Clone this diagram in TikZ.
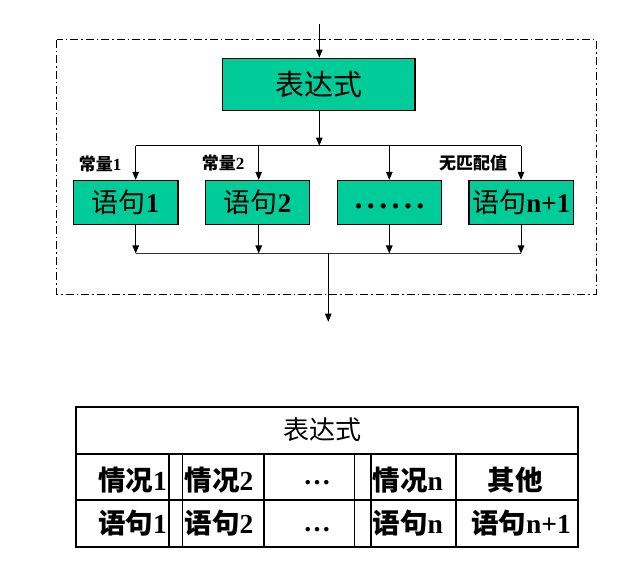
\documentclass[tikz,border=0pt]{standalone}
\usepackage{fontspec}
\setmainfont{Liberation Serif}
\newfontfamily\cjk{Noto Sans CJK SC}
\usetikzlibrary{arrows.meta}
\definecolor{boxgreen}{RGB}{0,204,153}
\newcommand\myzh[1]{{\cjk #1}}
\begin{document}
\begin{tikzpicture}[x=1pt,y=-1pt,
 gbox/.style={draw=black,line width=1.3pt,fill=boxgreen,minimum width=104.5pt,minimum height=44pt,inner sep=0pt,font=\fontsize{27}{27}\selectfont},
 conn/.style={line width=1pt,draw=black},
 arr/.style={conn,-{Triangle[width=6.5pt,length=8pt]}},
 lbl/.style={inner sep=0pt,font=\fontsize{17}{17}\selectfont\bfseries},
 cell/.style={inner sep=0pt,font=\fontsize{27.5}{27.5}\selectfont\bfseries},
 tline/.style={line width=2pt},
 vline/.style={line width=1.5pt},
 dashframe/.style={line width=1pt,dash pattern=on 8pt off 3pt on 1.5pt off 3pt}]
\useasboundingbox (0,0) rectangle (640,585);
% frame
\draw[dashframe] (56.7,40) rectangle (596,294.3);
% boxes
\node[gbox,minimum width=192.3pt,minimum height=52pt,font=\fontsize{29}{29}\selectfont] (expr) at (318.9,84.3) {\myzh{表达式}};
\node[gbox] (s1) at (125.6,202.5) {\myzh{语句}\textbf{1}};
\node[gbox] (s2) at (257.5,202.5) {\myzh{语句}\textbf{2}};
\node[gbox] (s3) at (389.5,202.5) {};
\node[inner sep=0pt,font=\fontsize{32}{32}\selectfont\bfseries] (s3t) at (389.5,206) {.\kern4.4pt.\kern4.4pt.\kern4.4pt.\kern4.4pt.\kern4.4pt.};
\node[gbox] (s4) at (521.3,202.5) {\myzh{语句}\textbf{n+1}};
% labels
\node[lbl] (c1) at (100,164) {\myzh{常量}1};
\node[lbl] (c2) at (223,163.3) {\myzh{常量}2};
\node[lbl] (c4) at (473,163) {\myzh{无匹配值}};
% connectors top
\coordinate (in) at (319.3,24);
\draw[arr] (in) -- (expr.north -| in);
\coordinate (bm) at (319.3,145.7);
\coordinate (bL) at (135.7,145.7);
\coordinate (b2) at (258.7,145.7);
\coordinate (b3) at (389.3,145.7);
\coordinate (bR) at (521,145.7);
\draw[arr] (expr.south -| bm) -- (bm);
\draw[conn] (bL) -- (bR);
\draw[arr] (bL) -- (bL |- s1.north);
\draw[arr] (b2) -- (b2 |- s2.north);
\draw[arr] (b3) -- (b3 |- s3.north);
\draw[arr] (bR) -- (bR |- s4.north);
% connectors bottom
\coordinate (dL) at (135.7,253.5);
\coordinate (d2) at (258.7,253.5);
\coordinate (d3) at (389.3,253.5);
\coordinate (dR) at (521,253.5);
\coordinate (dm) at (328.3,253.5);
\coordinate (out) at (328.3,321.7);
\draw[line width=1.5pt,draw=black!80] (dL) -- (dR);
\draw[arr] (s1.south -| dL) -- (dL);
\draw[arr] (s2.south -| d2) -- (d2);
\draw[arr] (s3.south -| d3) -- (d3);
\draw[arr] (s4.south -| dR) -- (dR);
\draw[arr] (dm) -- (out);
% table
\draw[tline] (75.7,407.3) rectangle (577.7,546.7);
\draw[tline] (75.7,454) -- (577.7,454);
\draw[tline] (75.7,500) -- (577.7,500);
\foreach \xx in {169,182.7,264,354.3,371,456}{\draw[vline] (\xx,454) -- (\xx,546.7);}
\node[inner sep=0pt,font=\fontsize{26}{26}\selectfont] (t0) at (322.5,430) {\myzh{表达式}};
\node[cell,anchor=east] (t11) at (167,480) {\myzh{情况}1};
\node[cell,anchor=west] (t12) at (184.5,480) {\myzh{情况}2};
\node[cell] (t13) at (317,482.5) {…};
\node[cell,anchor=west] (t14) at (372.5,480) {\myzh{情况}n};
\node[cell] (t15) at (515,480) {\myzh{其他}};
\node[cell,anchor=east] (t21) at (167,523.5) {\myzh{语句}1};
\node[cell,anchor=west] (t22) at (184.5,523.5) {\myzh{语句}2};
\node[cell] (t23) at (317,529.5) {…};
\node[cell,anchor=west] (t24) at (372.5,523.5) {\myzh{语句}n};
\node[cell] (t25) at (521,523.5) {\myzh{语句}n+1};
\end{tikzpicture}
\end{document}
